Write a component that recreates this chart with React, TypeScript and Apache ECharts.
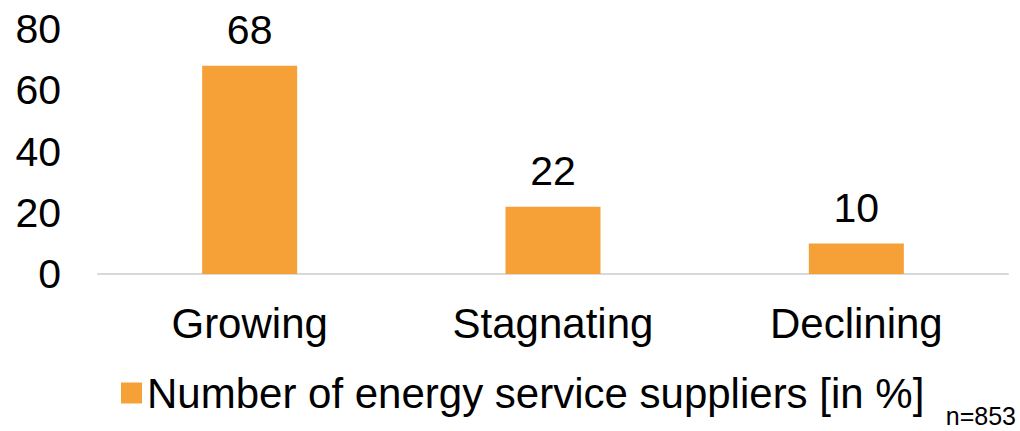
import React, { useEffect, useRef } from "react";
import * as echarts from "echarts";

const categories = ["Growing", "Stagnating", "Declining"];
const values = [68, 22, 10];
const seriesName = "Number of energy service suppliers [in %]";
const sampleNote = "n=853";

export default function App() {
  const ref = useRef<HTMLDivElement>(null);
  useEffect(() => {
    document.body.style.margin = "0";
    const chart = echarts.init(ref.current!, null, { renderer: "svg" });
    const font = "Liberation Sans, Arial, sans-serif";
    chart.setOption({
      animation: false,
      textStyle: { fontFamily: font },
      grid: { left: 98, right: 12, top: 29, bottom: 157 },
      legend: {
        left: 116,
        top: 367,
        itemWidth: 21,
        itemHeight: 21,
        itemGap: 10,
        icon: "rect",
        textStyle: { fontSize: 42, color: "#000", fontFamily: font },
        data: [seriesName],
      },
      xAxis: {
        type: "category",
        data: categories,
        axisLine: { lineStyle: { color: "#d9d9d9", width: 2 } },
        axisTick: { show: false },
        axisLabel: { fontSize: 42, color: "#000", margin: 28, fontFamily: font },
      },
      yAxis: {
        type: "value",
        min: 0,
        max: 80,
        interval: 20,
        splitLine: { show: false },
        axisLine: { show: false },
        axisTick: { show: false },
        axisLabel: { fontSize: 41, color: "#000", margin: 37, fontFamily: font },
      },
      series: [
        {
          name: seriesName,
          type: "bar",
          data: values,
          barWidth: 95,
          itemStyle: { color: "#F5A137" },
          label: {
            show: true,
            position: "top",
            distance: 15,
            fontSize: 41,
            color: "#000",
            fontFamily: font,
          },
        },
      ],
      graphic: [
        {
          type: "text",
          right: 4,
          top: 403,
          style: { text: sampleNote, fontSize: 25, fill: "#000", fontFamily: font },
        },
      ],
    });
    return () => chart.dispose();
  }, []);
  return <div ref={ref} style={{ width: 1020, height: 431 }} />;
}
